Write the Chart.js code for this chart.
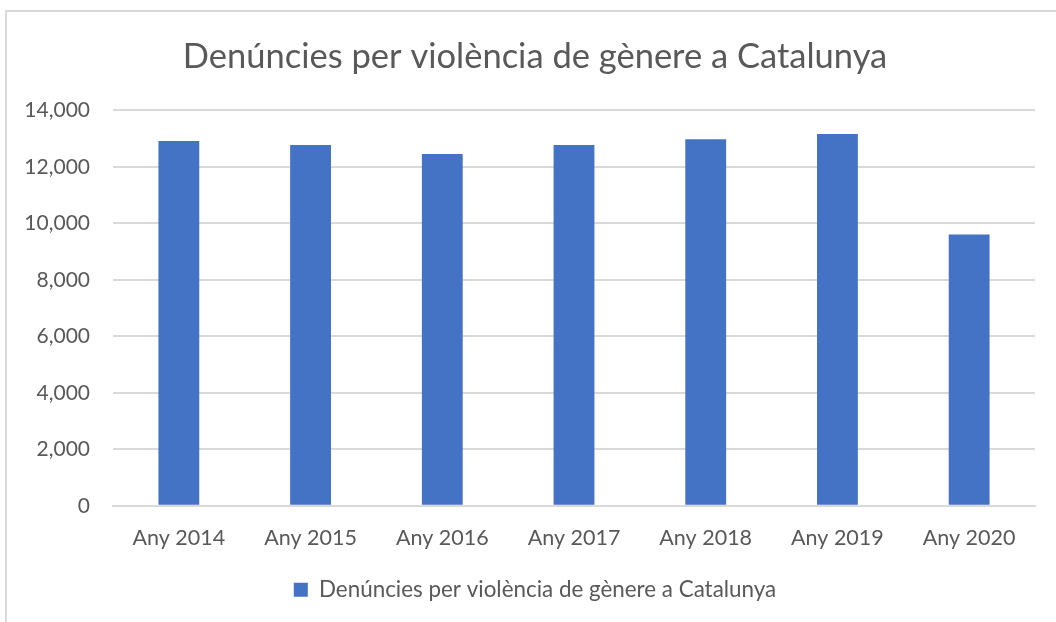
<!DOCTYPE html>
<html lang="ca">
<head>
    <meta charset="utf-8">
    <title>Denúncies per violència de gènere a Catalunya</title>
    <style>
        html, body { margin: 0; padding: 0; background: #fff; }
        body { width: 1056px; height: 622px; position: relative; overflow: hidden; }
        .frame {
            position: absolute; left: 5px; top: 10px; width: 1200px; height: 800px;
            border-left: 2px solid #d9d9d9; border-top: 2px solid #d9d9d9;
        }
        #chart { position: absolute; left: 0; top: 0; }
    </style>
</head>
<body>
    <div class="frame"></div>
    <canvas id="chart" width="1056" height="622"></canvas>

    <script src="https://cdn.jsdelivr.net/npm/chart.js"></script>
    <script>
        // dades llegides del gràfic
        const categories = ['Any 2014', 'Any 2015', 'Any 2016', 'Any 2017', 'Any 2018', 'Any 2019', 'Any 2020'];
        const denuncies = [12920, 12775, 12455, 12775, 12975, 13165, 9605];
        const seriesName = 'Denúncies per violència de gènere a Catalunya';
        const yTicks = [0, 2000, 4000, 6000, 8000, 10000, 12000, 14000];

        const textColor = '#595959';
        const fontFamily = 'Lato, "Open Sans", sans-serif';

        new Chart(document.getElementById('chart'), {
            type: 'bar',
            data: {
                labels: categories,
                datasets: [{
                    label: seriesName,
                    data: denuncies,
                    backgroundColor: '#4472c4',
                    borderWidth: 0,
                    barPercentage: 0.62,
                    categoryPercentage: 0.5
                }]
            },
            options: {
                responsive: false,
                animation: false,
                layout: { padding: { left: 14, right: 0, top: 0, bottom: 11 } },
                plugins: {
                    title: {
                        display: true,
                        text: seriesName,
                        color: textColor,
                        font: { family: fontFamily, size: 34.5, weight: 'normal' },
                        padding: { top: 36, bottom: 33 }
                    },
                    legend: {
                        position: 'bottom',
                        labels: {
                            color: textColor,
                            font: { family: fontFamily, size: 22.4 },
                            boxWidth: 14,
                            boxHeight: 14,
                            padding: 17
                        }
                    },
                    tooltip: { enabled: false }
                },
                scales: {
                    x: {
                        grid: { display: false },
                        border: { color: '#d9d9d9', width: 2 },
                        ticks: {
                            color: textColor,
                            font: { family: fontFamily, size: 21.5 },
                            padding: 11,
                            maxRotation: 0
                        }
                    },
                    y: {
                        min: 0,
                        max: 14000,
                        afterFit: function (scale) { scale.width = 99; },
                        afterBuildTicks: function (scale) {
                            scale.ticks = yTicks.map(v => ({ value: v }));
                        },
                        grid: { color: '#d9d9d9', lineWidth: 2, drawTicks: false },
                        border: { display: false },
                        ticks: {
                            color: textColor,
                            font: { family: fontFamily, size: 21 },
                            padding: 23,
                            callback: v => v.toLocaleString('en-US')
                        }
                    },
                    // marge buit a la dreta de l'àrea del gràfic
                    marge: {
                        type: 'linear',
                        position: 'right',
                        afterFit: function (scale) { scale.width = 21; },
                        grid: { display: false, drawTicks: false },
                        border: { display: false },
                        ticks: { display: false }
                    }
                }
            }
        });
    </script>
</body>
</html>
